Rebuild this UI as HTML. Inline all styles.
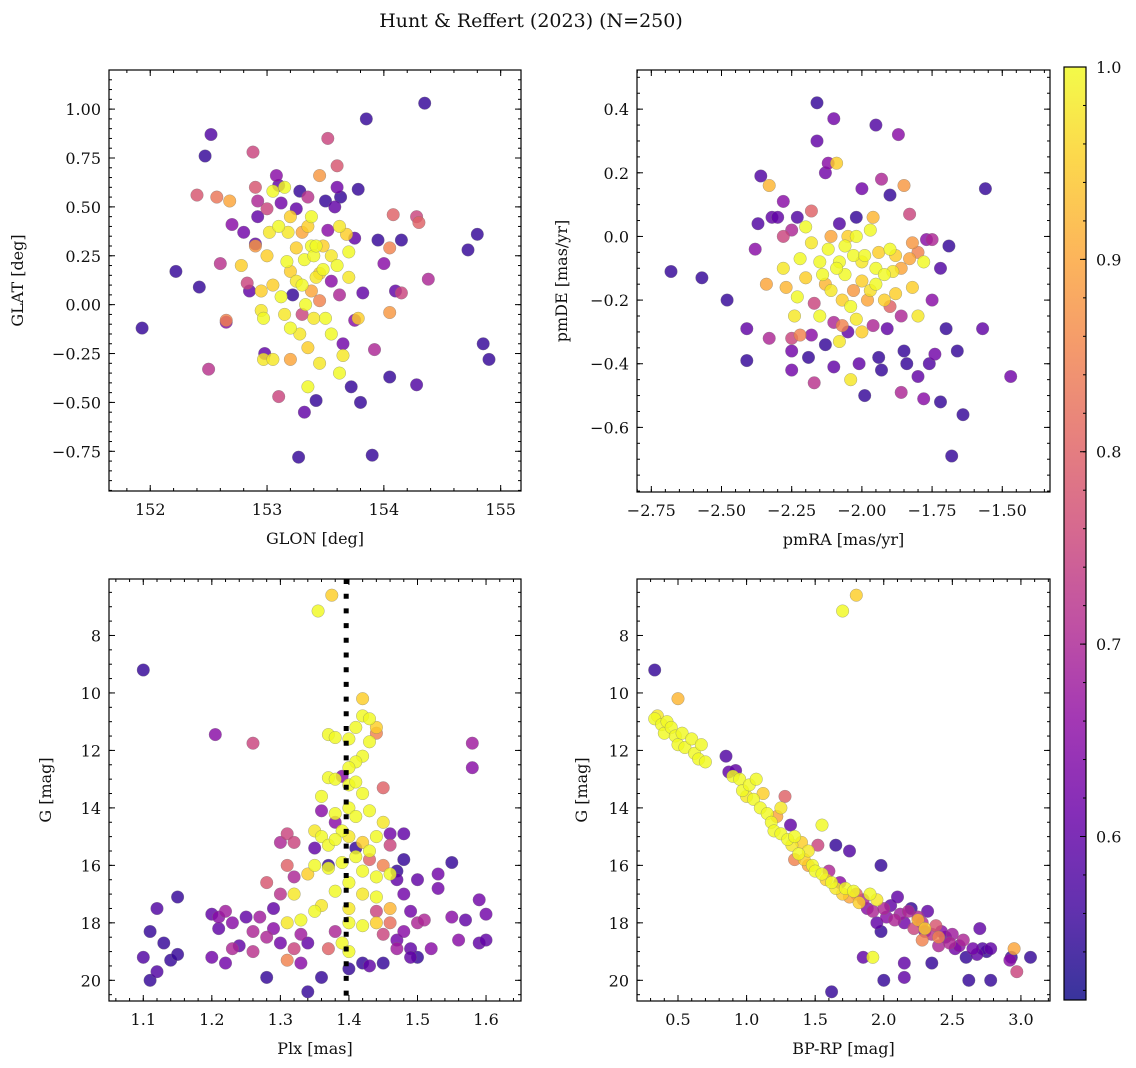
<!DOCTYPE html>
<html><head><meta charset="utf-8"><style>
html,body{margin:0;padding:0;background:#fff;}
svg{display:block;font-family:"DejaVu Serif","Liberation Serif",serif;}
</style></head><body>
<svg id="fig" width="1136" height="1068" viewBox="0 0 1136 1068" xmlns="http://www.w3.org/2000/svg">
<text x="531" y="27" text-anchor="middle" font-size="19" fill="#111">Hunt &amp; Reffert (2023) (N=250)</text>
</svg>
<script>
// ---- data (value, value, membership probability) ----
const glonGlat = [[151.93,-0.12,0.55],[152.22,0.17,0.55],[152.42,0.09,0.55],[152.47,0.76,0.55],[152.52,0.87,0.58],[152.5,-0.33,0.72],[152.4,0.56,0.78],[152.57,0.55,0.83],[152.6,0.21,0.72],[152.65,-0.08,0.85],[152.65,-0.09,0.65],[152.68,0.53,0.9],[152.7,0.41,0.65],[152.78,0.2,0.95],[152.8,0.37,0.62],[152.83,0.11,0.75],[152.85,0.07,0.6],[152.88,0.78,0.75],[152.9,0.6,0.78],[152.92,0.53,0.7],[152.9,0.3,0.88],[152.9,0.31,0.6],[152.92,0.45,0.6],[152.95,0.07,0.95],[152.95,-0.03,0.98],[152.97,-0.07,1],[152.98,-0.25,0.6],[152.97,-0.28,0.98],[153.0,0.49,0.75],[153.0,0.25,0.95],[153.02,0.37,0.98],[153.05,-0.28,0.98],[153.05,0.58,1],[153.08,0.66,0.65],[153.1,-0.47,0.75],[153.1,0.61,0.6],[153.1,0.4,1],[153.12,0.04,1],[153.12,0.52,0.62],[153.15,0.6,1],[153.18,0.37,0.98],[153.17,0.22,1],[153.2,-0.12,1],[153.2,0.17,0.95],[153.2,-0.28,0.9],[153.22,0.05,0.55],[153.25,0.29,0.95],[153.25,0.49,0.6],[153.27,-0.78,0.55],[153.28,0.58,0.55],[153.3,0.37,0.9],[153.3,0.1,1],[153.3,-0.05,0.75],[153.32,0.23,1],[153.32,-0.55,0.6],[153.35,-0.42,1],[153.33,0.0,1],[153.35,-0.22,0.95],[153.35,0.4,0.95],[153.38,0.3,1],[153.38,0.07,0.9],[153.4,-0.07,0.98],[153.4,0.25,1],[153.42,0.14,0.98],[153.42,-0.49,0.55],[153.42,0.3,1],[153.45,-0.3,0.98],[153.45,0.66,0.88],[153.45,0.02,0.85],[153.48,0.3,0.95],[153.48,0.18,1],[153.5,0.53,0.55],[153.5,-0.07,1],[153.52,0.85,0.75],[153.52,0.38,0.65],[153.55,0.25,0.98],[153.55,0.12,0.65],[153.58,0.5,0.6],[153.6,0.2,1],[153.6,0.71,0.78],[153.62,-0.35,1],[153.62,0.05,0.7],[153.63,0.55,0.55],[153.65,-0.2,0.62],[153.65,-0.26,0.98],[153.68,0.36,0.95],[153.7,0.27,1],[153.7,0.14,0.98],[153.72,-0.42,0.55],[153.75,-0.08,0.65],[153.75,0.34,0.6],[153.78,0.59,0.55],[153.78,-0.07,0.95],[153.8,-0.5,0.55],[153.82,0.06,0.6],[153.85,0.95,0.55],[153.9,-0.77,0.55],[153.92,-0.23,0.7],[153.95,0.33,0.55],[154.05,-0.37,0.55],[154.05,0.29,0.85],[154.15,0.33,0.55],[154.15,0.06,0.75],[154.0,0.21,0.65],[154.08,0.46,0.8],[154.1,0.07,0.6],[154.28,0.45,0.75],[154.28,-0.41,0.58],[154.3,0.42,0.8],[154.35,1.03,0.55],[154.38,0.13,0.7],[154.72,0.28,0.55],[154.8,0.36,0.55],[154.85,-0.2,0.55],[154.9,-0.28,0.55],[154.05,-0.04,0.88],[153.45,0.16,0.95],[153.25,0.12,0.98],[153.6,0.6,0.62],[153.35,0.55,0.72],[153.05,0.1,0.95],[153.15,-0.05,0.98],[153.28,-0.15,0.98],[153.55,-0.15,1],[153.38,0.45,1],[153.2,0.45,0.95],[153.62,0.4,0.98]];
const pmraPmde = [[-2.68,-0.11,0.55],[-2.57,-0.13,0.55],[-2.48,-0.2,0.55],[-2.41,-0.39,0.55],[-2.41,-0.29,0.6],[-2.38,-0.04,0.65],[-2.37,0.04,0.58],[-2.36,0.19,0.58],[-2.34,-0.15,0.9],[-2.33,-0.32,0.7],[-2.33,0.16,0.92],[-2.32,0.06,0.6],[-2.3,0.06,0.6],[-2.28,-0.1,0.98],[-2.28,0.11,0.65],[-2.28,0.0,0.75],[-2.27,-0.16,0.92],[-2.25,-0.32,0.75],[-2.25,-0.36,0.62],[-2.25,-0.42,0.62],[-2.24,-0.25,0.98],[-2.23,-0.19,1],[-2.23,0.06,0.58],[-2.22,-0.31,0.85],[-2.2,-0.13,0.95],[-2.2,0.03,1],[-2.19,-0.38,0.55],[-2.18,-0.31,0.65],[-2.18,0.08,0.8],[-2.17,-0.21,0.75],[-2.17,-0.46,0.72],[-2.16,0.42,0.55],[-2.16,0.3,0.6],[-2.15,-0.08,1],[-2.14,-0.12,1],[-2.13,0.2,0.62],[-2.13,-0.34,0.55],[-2.12,0.23,0.65],[-2.12,-0.04,1],[-2.11,-0.17,0.98],[-2.1,-0.27,0.7],[-2.1,0.37,0.62],[-2.1,-0.41,0.6],[-2.09,0.23,0.95],[-2.08,-0.08,1],[-2.08,0.04,0.58],[-2.07,-0.2,0.95],[-2.06,-0.12,1],[-2.05,-0.3,0.6],[-2.05,0.0,0.95],[-2.04,-0.22,1],[-2.04,-0.45,0.98],[-2.03,-0.06,1],[-2.02,0.06,0.55],[-2.02,0.0,1],[-2.02,-0.26,0.98],[-2.01,-0.4,0.6],[-2.0,0.15,0.62],[-2.0,-0.14,0.95],[-1.99,-0.5,0.55],[-1.99,-0.06,1],[-1.98,-0.2,0.9],[-1.97,0.02,1],[-1.96,-0.28,0.7],[-1.95,-0.1,1],[-1.95,0.35,0.58],[-1.94,-0.38,0.55],[-1.93,-0.42,0.55],[-1.93,0.18,0.7],[-1.92,-0.2,0.95],[-1.91,-0.29,0.6],[-1.9,-0.04,1],[-1.9,0.13,0.55],[-1.89,-0.11,0.98],[-1.88,-0.06,0.95],[-1.87,0.32,0.65],[-1.86,-0.25,0.7],[-1.86,-0.49,0.7],[-1.85,0.16,0.88],[-1.85,-0.36,0.55],[-1.84,-0.4,0.55],[-1.83,-0.07,0.9],[-1.83,0.07,0.75],[-1.82,-0.16,0.95],[-1.82,-0.02,0.88],[-1.8,-0.44,0.6],[-1.8,-0.25,0.98],[-1.78,-0.51,0.65],[-1.78,-0.08,1],[-1.77,-0.01,0.65],[-1.76,-0.4,0.58],[-1.75,-0.01,0.7],[-1.75,-0.2,0.65],[-1.74,-0.37,0.62],[-1.72,-0.52,0.55],[-1.72,-0.1,0.58],[-1.7,-0.29,0.55],[-1.69,-0.03,0.55],[-1.68,-0.69,0.55],[-1.66,-0.36,0.55],[-1.64,-0.56,0.55],[-1.57,-0.29,0.6],[-1.56,0.15,0.55],[-1.47,-0.44,0.62],[-2.22,-0.07,1],[-2.18,-0.02,0.98],[-2.13,-0.15,0.92],[-2.09,-0.1,1],[-2.06,-0.03,1],[-2.0,-0.08,0.98],[-1.97,-0.17,0.97],[-1.94,-0.05,0.95],[-1.92,-0.12,1],[-1.88,-0.18,0.95],[-2.11,0.0,0.9],[-2.07,-0.28,0.85],[-2.03,-0.17,0.88],[-1.9,-0.22,0.8],[-2.15,-0.25,1],[-2.25,0.02,0.7],[-1.95,-0.15,1],[-2.0,-0.3,0.95],[-2.08,-0.33,0.98],[-1.96,0.06,0.92],[-1.86,-0.1,0.9],[-1.8,-0.05,0.85]];
const plxG = [[1.10,9.2,0.55],[1.205,11.45,0.65],[1.26,11.75,0.75],[1.58,11.75,0.68],[1.58,12.6,0.65],[1.355,7.15,1],[1.375,6.6,0.95],[1.42,10.2,0.95],[1.42,10.8,1],[1.43,10.9,1],[1.44,11.4,0.85],[1.37,11.45,1],[1.38,11.55,1],[1.40,11.6,1],[1.41,11.2,1],[1.43,11.7,1],[1.44,11.2,0.95],[1.42,12.2,1],[1.41,12.4,1],[1.40,12.6,1],[1.39,12.9,0.65],[1.37,12.95,1],[1.38,13.0,1],[1.40,13.2,1],[1.41,13.1,1],[1.42,13.5,1],[1.45,13.3,0.8],[1.36,13.6,1],[1.40,14.0,1],[1.38,14.2,1],[1.41,14.3,1],[1.43,14.1,1],[1.45,14.5,0.98],[1.39,14.8,1],[1.35,14.8,0.98],[1.36,15.0,1],[1.37,15.3,1],[1.38,15.1,1],[1.40,15.0,0.98],[1.42,15.2,0.95],[1.44,15.0,1],[1.43,15.5,1],[1.41,15.7,1],[1.39,15.9,1],[1.37,16.1,1],[1.35,16.0,1],[1.34,16.3,0.95],[1.42,16.2,1],[1.44,16.4,1],[1.46,16.3,1],[1.40,16.6,1],[1.38,16.9,1],[1.42,17.0,0.98],[1.44,17.1,1],[1.46,17.5,0.92],[1.36,17.4,0.98],[1.35,17.6,1],[1.40,17.5,0.98],[1.40,18.0,1],[1.42,18.1,1],[1.44,18.0,0.95],[1.39,18.7,1],[1.40,19.0,1],[1.33,17.9,1],[1.32,17.0,0.98],[1.31,18.0,0.98],[1.31,14.9,0.75],[1.30,15.2,0.7],[1.32,15.2,0.75],[1.31,16.0,0.8],[1.32,16.4,0.7],[1.35,15.4,0.6],[1.36,14.1,0.65],[1.38,14.5,0.65],[1.37,16.0,0.55],[1.41,15.4,0.55],[1.46,14.9,0.62],[1.48,14.9,0.6],[1.48,15.8,0.55],[1.47,16.2,0.55],[1.47,16.5,0.6],[1.48,17.0,0.62],[1.45,16.0,0.85],[1.46,15.3,0.75],[1.43,15.8,0.8],[1.44,17.6,0.75],[1.46,18.0,0.82],[1.45,18.4,0.75],[1.38,18.3,0.7],[1.37,18.9,0.8],[1.34,18.7,0.6],[1.33,19.4,0.65],[1.36,19.9,0.55],[1.34,20.4,0.55],[1.42,19.4,0.55],[1.40,19.6,0.55],[1.11,18.3,0.55],[1.12,17.5,0.58],[1.13,18.7,0.55],[1.10,19.2,0.58],[1.11,20.0,0.55],[1.12,19.7,0.58],[1.14,19.3,0.55],[1.15,17.1,0.55],[1.15,19.1,0.55],[1.20,17.7,0.6],[1.20,19.2,0.62],[1.21,17.8,0.65],[1.21,18.2,0.6],[1.22,19.4,0.62],[1.22,17.6,0.68],[1.23,18.0,0.65],[1.23,18.9,0.7],[1.24,18.8,0.6],[1.25,17.8,0.6],[1.26,18.3,0.7],[1.26,19.0,0.72],[1.27,17.8,0.68],[1.28,18.5,0.7],[1.28,19.9,0.55],[1.28,16.6,0.78],[1.29,18.2,0.65],[1.30,17.0,0.72],[1.30,18.7,0.62],[1.31,19.3,0.85],[1.29,17.5,0.6],[1.33,18.4,0.68],[1.32,18.9,0.75],[1.47,18.9,0.68],[1.48,18.3,0.65],[1.49,17.6,0.62],[1.49,18.9,0.6],[1.50,19.2,0.55],[1.50,16.5,0.6],[1.50,18.0,0.7],[1.51,17.9,0.7],[1.52,18.9,0.65],[1.53,16.3,0.62],[1.53,16.8,0.62],[1.55,15.9,0.55],[1.55,17.8,0.65],[1.56,18.6,0.65],[1.57,17.9,0.6],[1.59,17.2,0.62],[1.59,18.7,0.6],[1.60,17.7,0.62],[1.60,18.6,0.6],[1.43,19.5,0.6],[1.45,19.4,0.55],[1.47,18.6,0.62],[1.49,19.2,0.6]];
const bprpG = [[0.33,10.9,1],[0.35,10.8,0.98],[0.38,11.1,1],[0.4,11.4,1],[0.42,11.0,1],[0.45,11.2,1],[0.48,11.5,1],[0.5,10.2,0.92],[0.5,11.8,1],[0.53,11.4,1],[0.55,11.9,1],[0.6,11.6,1],[0.62,12.1,1],[0.65,12.3,1],[0.67,11.8,1],[0.7,12.4,1],[0.33,9.2,0.55],[1.7,7.15,1],[1.8,6.6,0.95],[0.85,12.2,0.58],[0.87,12.75,0.6],[0.9,12.9,1],[0.92,12.7,0.6],[0.95,13.0,1],[0.97,13.4,1],[1.0,13.6,0.98],[1.02,13.2,1],[1.05,13.7,1],[1.07,13.0,1],[1.1,14.0,1],[1.12,13.5,0.95],[1.15,14.2,1],[1.18,14.5,1],[1.2,14.8,1],[1.22,14.3,0.9],[1.25,14.9,1],[1.28,13.6,0.8],[1.3,15.1,1],[1.32,14.6,0.6],[1.33,15.3,0.98],[1.35,15.0,1],[1.38,15.6,1],[1.4,15.2,0.95],[1.42,15.8,0.95],[1.45,15.5,0.98],[1.48,16.0,1],[1.5,16.2,1],[1.52,15.3,0.75],[1.55,14.6,1],[1.55,16.3,1],[1.58,16.5,0.95],[1.6,16.2,0.7],[1.62,16.6,1],[1.65,15.3,0.55],[1.65,16.8,0.98],[1.68,16.6,0.65],[1.7,17.0,0.95],[1.72,16.8,1],[1.75,15.5,0.58],[1.75,17.1,0.9],[1.78,16.9,1],[1.8,17.0,0.8],[1.82,17.3,0.95],[1.85,17.2,0.7],[1.88,17.5,0.65],[1.9,17.0,1],[1.92,17.6,0.7],[1.95,17.2,0.98],[1.95,18.0,0.6],[1.98,16.0,0.55],[1.98,18.3,0.55],[2.0,17.5,0.7],[2.02,17.8,0.65],[2.05,17.4,0.6],[2.08,17.9,0.7],[2.1,17.1,0.6],[2.12,17.7,0.68],[2.15,18.0,0.62],[2.15,19.4,0.6],[2.18,17.6,0.7],[2.2,17.5,0.55],[2.22,18.2,0.75],[2.25,17.8,0.7],[2.28,18.0,0.72],[2.3,18.3,0.65],[2.32,17.6,0.6],[2.35,18.4,0.72],[2.38,18.1,0.78],[2.4,18.8,0.7],[2.42,18.3,0.65],[2.45,18.5,0.6],[2.48,18.7,0.7],[2.5,18.4,0.68],[2.52,18.9,0.62],[2.55,18.8,0.65],[2.58,18.6,0.7],[2.6,19.2,0.55],[2.62,20.0,0.55],[2.65,18.9,0.62],[2.68,19.1,0.6],[2.7,18.2,0.6],[2.72,18.9,0.58],[2.75,19.0,0.55],[2.78,18.9,0.6],[2.78,20.0,0.55],[2.92,19.3,0.65],[2.95,18.9,0.9],[2.97,19.7,0.75],[3.07,19.2,0.55],[2.93,19.2,0.55],[1.62,20.4,0.55],[1.85,19.2,0.6],[1.92,19.2,1],[2.0,20.0,0.55],[2.15,19.9,0.6],[2.35,19.4,0.55],[2.25,17.9,0.92],[2.3,18.2,0.95],[2.4,18.5,0.85],[2.28,18.6,0.85],[1.35,15.8,0.85],[1.45,16.0,0.9],[1.25,14.0,0.98]];
const plxMedian = [1.396];
const glonTicks = [152,153,154,155];
const glatTicks = [-0.75,-0.5,-0.25,0,0.25,0.5,0.75,1.0];
const pmraTicks = [-2.75,-2.5,-2.25,-2.0,-1.75,-1.5];
const pmdeTicks = [-0.6,-0.4,-0.2,0,0.2,0.4];
const plxTicks = [1.1,1.2,1.3,1.4,1.5,1.6];
const gTicks = [8,10,12,14,16,18,20];
const bprpTicks = [0.5,1.0,1.5,2.0,2.5,3.0];
const cbarTicks = [0.6,0.7,0.8,0.9,1.0];

const NS = "http://www.w3.org/2000/svg";
const svg = document.getElementById('fig');
function mk(tag, attrs, parent){ const e=document.createElementNS(NS,tag); for(const k in attrs) e.setAttribute(k,attrs[k]); (parent||svg).appendChild(e); return e; }
const VMIN=0.515, VMAX=1.0;
const plasma=[[13,8,135],[65,4,157],[106,0,168],[143,13,164],[177,42,144],[204,71,120],[225,100,98],[242,132,75],[252,166,54],[252,206,37],[240,249,33]];
function cmap(v){ let t=(v-VMIN)/(VMAX-VMIN); t=Math.max(0,Math.min(1,t))*10; const i=Math.min(9,Math.floor(t)), f=t-i; const a=plasma[i], b=plasma[i+1]; return 'rgb('+a.map((c,k)=>Math.round(c+(b[k]-c)*f)).join(',')+')'; }
function fmt(v,d){ const s=v.toFixed(d); return s.startsWith('-')?'\u2212'+s.slice(1):s; }

function panel(cfg){
  const g=mk('g',{});
  
  
  const {x0,x1,y0,y1,xmin,xmax,ymin,ymax,inv}=cfg;
  const sx=v=>x0+(v-xmin)/(xmax-xmin)*(x1-x0);
  const sy=v=> inv ? y0+(v-ymin)/(ymax-ymin)*(y1-y0) : y1-(v-ymin)/(ymax-ymin)*(y1-y0);
  const cid='clip-'+cfg.name;
  const cp=mk('clipPath',{id:cid},g); mk('rect',{x:x0,y:y0,width:x1-x0,height:y1-y0},cp);
  const pts=mk('g',{'clip-path':'url(#'+cid+')'},g);
  
  
  const sorted=cfg.data.slice().sort((a,b)=>a[2]-b[2]);
  sorted.forEach(d=>{
    const c=mk('circle',{cx:sx(d[0]).toFixed(1),cy:sy(d[1]).toFixed(1),r:6.3,fill:cmap(d[2]),'fill-opacity':0.82,stroke:'#777','stroke-opacity':0.6,'stroke-width':0.5},pts);
    
    
  });
  if(cfg.vline){ cfg.vline.forEach(v=>{ const l=mk('line',{x1:sx(v),x2:sx(v),y1:y0,y2:y1,stroke:'#000','stroke-width':5,'stroke-dasharray':'5 9.7'},g);
    
     }); }
  const tk=mk('g',{stroke:'#000','stroke-width':1},g);
  const eps=1e-9;
  const mstart=Math.ceil(Math.min(xmin,xmax)/cfg.xminor-eps)*cfg.xminor;
  for(let v=mstart; v<=Math.max(xmin,xmax)+eps; v+=cfg.xminor){ const X=sx(v); mk('line',{x1:X,x2:X,y1:y1,y2:y1-3},tk); mk('line',{x1:X,x2:X,y1:y0,y2:y0+3},tk); }
  const ys=Math.ceil(Math.min(ymin,ymax)/cfg.yminor-eps)*cfg.yminor;
  for(let v=ys; v<=Math.max(ymin,ymax)+eps; v+=cfg.yminor){ const Y=sy(v); mk('line',{x1:x0,x2:x0+3,y1:Y,y2:Y},tk); mk('line',{x1:x1,x2:x1-3,y1:Y,y2:Y},tk); }
  cfg.xt.forEach(v=>{ const X=sx(v); mk('line',{x1:X,x2:X,y1:y1,y2:y1-6},tk); mk('line',{x1:X,x2:X,y1:y0,y2:y0+6},tk);
    const t=mk('text',{x:X,y:y1+24,'text-anchor':'middle','font-size':16,fill:'#111'},g); t.textContent=fmt(v,cfg.xd);
    
     });
  cfg.yt.forEach(v=>{ const Y=sy(v); mk('line',{x1:x0,x2:x0+6,y1:Y,y2:Y},tk); mk('line',{x1:x1,x2:x1-6,y1:Y,y2:Y},tk);
    const t=mk('text',{x:x0-8,y:Y+6,'text-anchor':'end','font-size':16,fill:'#111'},g); t.textContent=fmt(v,cfg.yd);
    
     });
  mk('rect',{x:x0,y:y0,width:x1-x0,height:y1-y0,fill:'none',stroke:'#000','stroke-width':1.2},g);
  const xl=mk('text',{x:(x0+x1)/2,y:y1+53,'text-anchor':'middle','font-size':16,fill:'#111'},g); xl.textContent=cfg.xlabel;
  
  
  const yl=mk('text',{x:cfg.ylx,y:(y0+y1)/2,'text-anchor':'middle','font-size':16,fill:'#111',transform:'rotate(-90 '+cfg.ylx+' '+((y0+y1)/2)+')'},g); yl.textContent=cfg.ylabel;
  
  
}

panel({name:'glon-glat-panel',data:glonGlat,x0:109,x1:521,y0:70,y1:491,xmin:151.647,xmax:155.174,ymin:-0.953,ymax:1.20,xt:glonTicks,yt:glatTicks,xd:0,yd:2,xminor:0.2,yminor:0.05,xlabel:'GLON [deg]',ylabel:'GLAT [deg]',ylx:23});
panel({name:'pm-panel',data:pmraPmde,x0:637,x1:1050,y0:70,y1:492,xmin:-2.801,xmax:-1.330,ymin:-0.803,ymax:0.523,xt:pmraTicks,yt:pmdeTicks,xd:2,yd:1,xminor:0.05,yminor:0.05,xlabel:'pmRA [mas/yr]',ylabel:'pmDE [mas/yr]',ylx:567});
panel({name:'plx-g-panel',data:plxG,x0:109,x1:521,y0:579,y1:1001,xmin:1.05,xmax:1.651,ymin:6.035,ymax:20.72,inv:true,xt:plxTicks,yt:gTicks,xd:1,yd:0,xminor:0.02,yminor:0.5,xlabel:'Plx [mas]',ylabel:'G [mag]',ylx:51,vline:plxMedian});
panel({name:'cmd-panel',data:bprpG,x0:637,x1:1050,y0:579,y1:1001,xmin:0.201,xmax:3.212,ymin:6.035,ymax:20.72,inv:true,xt:bprpTicks,yt:gTicks,xd:1,yd:0,xminor:0.1,yminor:0.5,xlabel:'BP-RP [mag]',ylabel:'G [mag]',ylx:587});

(function(){
  const cx0=1064,cx1=1086,cy0=67,cy1=1000;
  const g=mk('g',{});
  
  
  const defs=mk('defs',{},g);
  const lg=mk('linearGradient',{id:'cbg',x1:0,y1:1,x2:0,y2:0},defs);
  for(let i=0;i<=20;i++){ const v=VMIN+(VMAX-VMIN)*i/20; mk('stop',{offset:(i/20),'stop-color':cmap(v),'stop-opacity':0.82},lg); }
  mk('rect',{x:cx0,y:cy0,width:cx1-cx0,height:cy1-cy0,fill:'url(#cbg)',stroke:'#000','stroke-width':1.2},g);
  const sy=v=>cy1-(v-VMIN)/(VMAX-VMIN)*(cy1-cy0);
  for(let v=0.52; v<=1.0001; v+=0.02){ const Y=sy(v); mk('line',{x1:cx1,x2:cx1-3,y1:Y,y2:Y,stroke:'#000'},g); }
  cbarTicks.forEach(v=>{ const Y=sy(v); mk('line',{x1:cx1,x2:cx1-6,y1:Y,y2:Y,stroke:'#000'},g);
    const t=mk('text',{x:cx1+10,y:Y+6,'font-size':16,fill:'#111'},g); t.textContent=v.toFixed(1);
    
     });
})();
</script>
</body></html>
